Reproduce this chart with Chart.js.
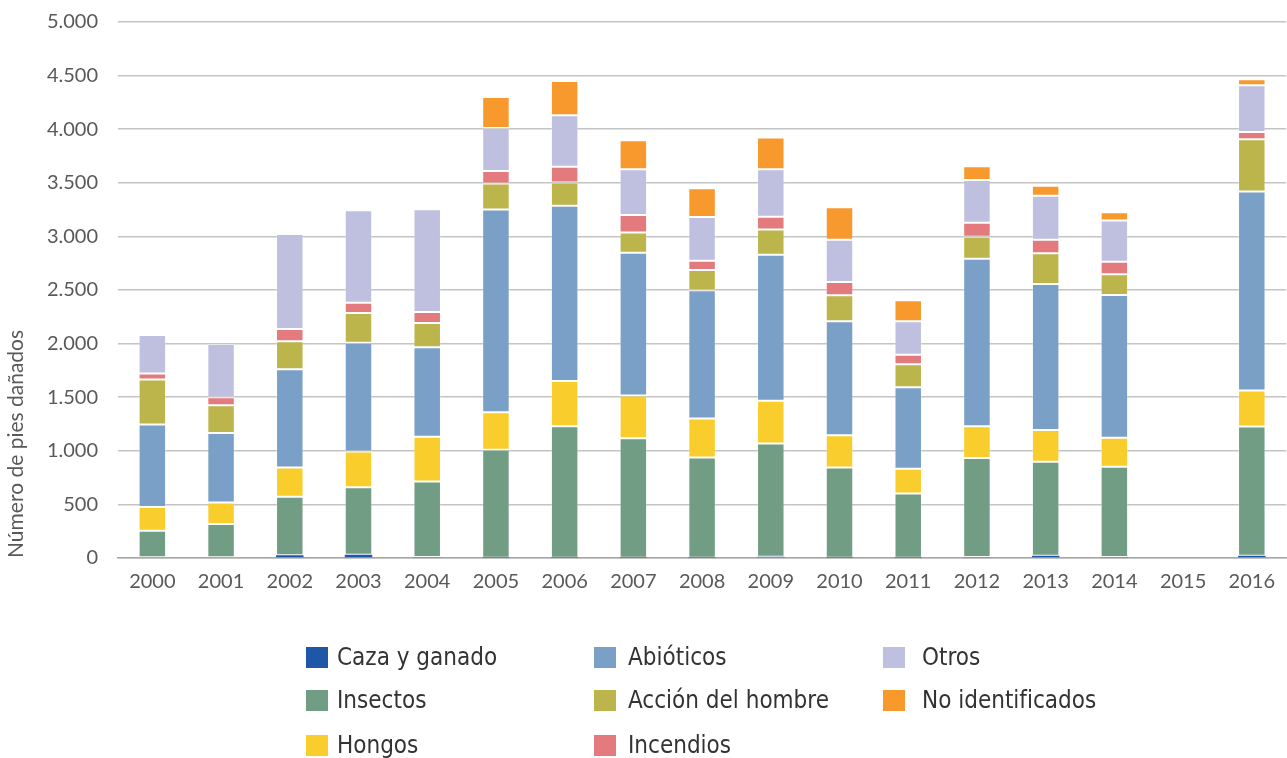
<!DOCTYPE html>
<html lang="es">
<head>
<meta charset="utf-8">
<title>Número de pies dañados</title>
<script src="https://cdn.jsdelivr.net/npm/chart.js@4.4.0/dist/chart.umd.min.js"></script>
<style>
    body { margin: 0; background: #fff; }
    #wrap { position: absolute; left: 0; top: 0; width: 1287px; height: 600px; }
    #legend { position: absolute; left: 0; top: 0; width: 1287px; height: 758px; pointer-events: none; }
    .item { position: absolute; display: flex; align-items: center; height: 30px;
            font-family: 'Liberation Sans Narrow', 'DejaVu Sans Condensed', sans-serif;
            font-size: 24px; color: #333; }
    .box { width: 22px; height: 21px; flex: none; }
</style>
</head>
<body>
<div id="wrap"><canvas id="piesChart"></canvas></div>
<div id="legend"></div>
<script>
const years = ['2000', '2001', '2002', '2003', '2004', '2005', '2006', '2007', '2008',
               '2009', '2010', '2011', '2012', '2013', '2014', '2015', '2016'];

const caza      = [0, 0, 25, 30, 10, 3, 3, 3, 3, 12, 3, 3, 10, 20, 10, 0, 20];
const insectos  = [254, 317, 546, 631, 704, 1006, 1227, 1115, 935, 1056, 841, 599, 922, 877, 841, 0, 1207];
const hongos    = [221, 201, 273, 332, 416, 351, 422, 397, 363, 398, 302, 230, 298, 298, 270, 0, 335];
const abioticos = [770, 649, 917, 1016, 836, 1892, 1633, 1333, 1196, 1363, 1062, 761, 1562, 1361, 1332, 0, 1858];
const accion    = [419, 258, 261, 276, 226, 242, 218, 189, 189, 236, 242, 214, 205, 286, 193, 0, 487];
const incendios = [56, 75, 114, 97, 103, 117, 146, 162, 87, 118, 124, 90, 130, 126, 118, 0, 68];
const otros     = [360, 497, 886, 863, 959, 401, 481, 428, 407, 444, 394, 311, 398, 411, 385, 0, 435];
const noIdent   = [0, 0, 0, 0, 0, 289, 320, 270, 270, 295, 305, 196, 130, 93, 77, 0, 55];

const yTicks = [0, 500, 1000, 1500, 2000, 2500, 3000, 3500, 4000, 4500, 5000];

function formatMiles(v) {
    return String(v).replace(/\B(?=(\d{3})+(?!\d))/g, '.');
}

const series = [
    { label: 'Caza y ganado', data: caza, color: '#1f57a8' },
    { label: 'Insectos', data: insectos, color: '#729d85' },
    { label: 'Hongos', data: hongos, color: '#f9cd2b' },
    { label: 'Abióticos', data: abioticos, color: '#7aa0c7' },
    { label: 'Acción del hombre', data: accion, color: '#bbb54b' },
    { label: 'Incendios', data: incendios, color: '#e37a7e' },
    { label: 'Otros', data: otros, color: '#bfc0df' },
    { label: 'No identificados', data: noIdent, color: '#f7992d' }
];

const ctx = document.getElementById('piesChart').getContext('2d');
const chart = new Chart(ctx, {
    type: 'bar',
    data: {
        labels: years,
        datasets: series.map((s, i) => ({
            label: s.label,
            data: s.data,
            backgroundColor: s.color,
            borderColor: 'rgba(255, 255, 255, 0.25)',
            // the caza segments are only a few pixels tall, a border would hide them
            borderWidth: i === 0 ? 0 : 1,
            borderSkipped: false,
            barPercentage: 0.4,
            categoryPercentage: 1
        }))
    },
    options: {
        responsive: true,
        maintainAspectRatio: false,
        animation: false,
        layout: { padding: { top: 22, right: 0, bottom: 0, left: 0 } },
        plugins: {
            legend: { display: false },
            tooltip: { enabled: false }
        },
        scales: {
            x: {
                stacked: true,
                afterFit: function(axis) { axis.height = 42; },
                grid: { display: false, drawTicks: false },
                border: { display: true, color: '#a8a8a8', width: 1.5 },
                ticks: {
                    color: '#595959',
                    padding: 12,
                    font: { family: 'Lato', size: 20 }
                }
            },
            y: {
                stacked: true,
                min: 0,
                max: 5000,
                afterFit: function(axis) { axis.width = 118; },
                afterBuildTicks: function(axis) {
                    axis.ticks = yTicks.map(v => ({ value: v }));
                },
                grid: { color: '#c4c4c4', lineWidth: 1.5, drawTicks: true, tickLength: 18, tickColor: 'rgba(0,0,0,0)' },
                border: { display: false },
                ticks: {
                    color: '#595959',
                    padding: 2,
                    font: { family: 'Lato', size: 20 },
                    callback: function(value) { return formatMiles(value); }
                },
                title: {
                    display: true,
                    text: 'Número de pies dañados',
                    align: 'start',
                    color: '#595959',
                    font: { family: 'Lato', size: 21 },
                    padding: { top: 4, bottom: 4 }
                }
            }
        }
    }
});

// leyenda en tres columnas, ordenada por columnas como en el original
const colLeft = [306, 594, 883];
const colGap = [9, 12, 17];
const rowTop = [642, 685, 730];
const legend = document.getElementById('legend');
chart.data.datasets.forEach((ds, i) => {
    const col = Math.floor(i / 3);
    const row = i % 3;
    const item = document.createElement('div');
    item.className = 'item';
    item.style.left = colLeft[col] + 'px';
    item.style.top = rowTop[row] + 'px';
    const box = document.createElement('span');
    box.className = 'box';
    box.style.background = ds.backgroundColor;
    box.style.marginRight = colGap[col] + 'px';
    const txt = document.createElement('span');
    txt.textContent = ds.label;
    item.appendChild(box);
    item.appendChild(txt);
    legend.appendChild(item);
});
</script>
</body>
</html>
